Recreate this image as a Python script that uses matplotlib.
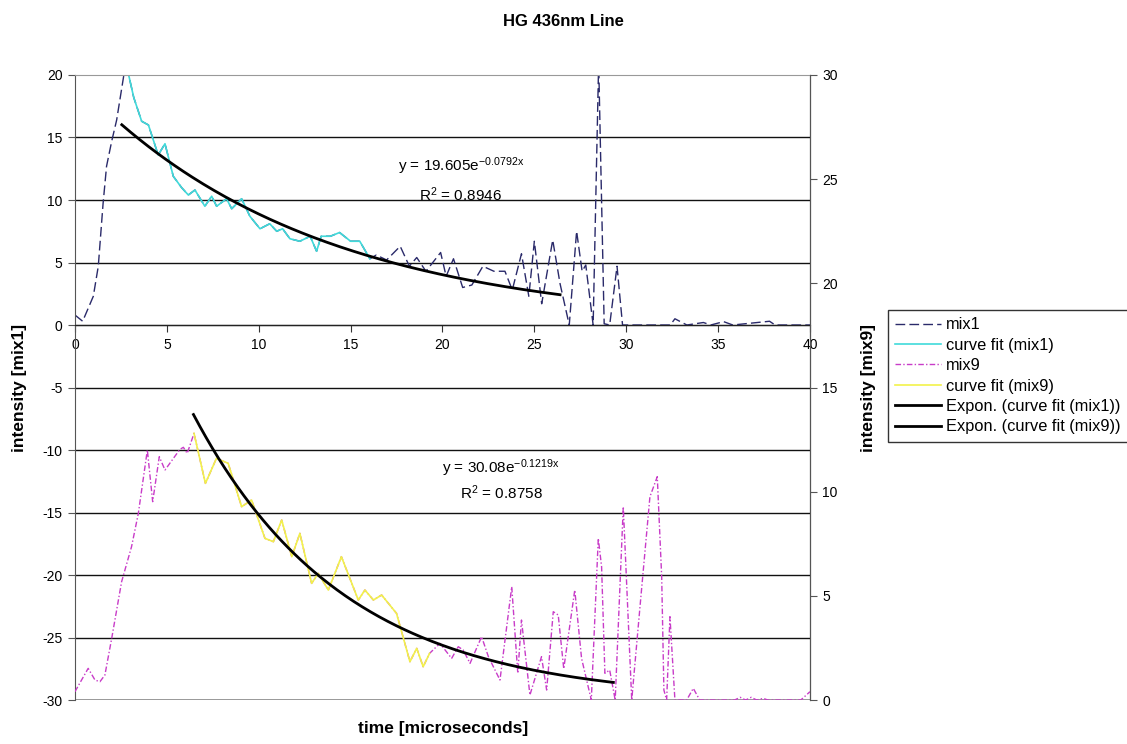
import numpy as np
import matplotlib
matplotlib.use("Agg")
import matplotlib.pyplot as plt

plt.rcParams['font.family'] = ['Liberation Sans', 'DejaVu Sans']
plt.rcParams['mathtext.fontset'] = 'custom'
plt.rcParams['mathtext.rm'] = 'Liberation Sans'
plt.rcParams['mathtext.it'] = 'Liberation Sans'
plt.rcParams['mathtext.default'] = 'regular'
plt.rcParams['axes.unicode_minus'] = False

# mix1 (left axis)
t_mix1 = [0.0, 0.42, 1.0, 1.27, 1.53, 1.72, 2.0, 2.27, 2.77, 3.2, 3.63, 4.0, 4.53, 4.9,
          5.35, 5.8, 6.17, 6.53, 7.07, 7.44, 7.71, 8.25, 8.53, 9.07, 9.52, 10.07, 10.6,
          10.98, 11.3, 11.7, 12.24, 12.8, 13.15, 13.4, 13.9, 14.4, 15.0, 15.5, 16.05,
          16.4, 16.96, 17.7, 18.2, 18.6, 19.1, 19.9, 20.2, 20.6, 21.1, 21.6, 22.2, 22.8,
          23.4, 23.8, 24.3, 24.7, 25.0, 25.4, 26.0, 26.4, 26.9, 27.3, 27.6, 27.8, 28.2,
          28.5, 28.8, 29.1, 29.5, 29.8, 32.4, 32.65, 33.3, 34.2, 34.6, 35.3, 35.8, 37.8,
          38.1, 40.0]
mix1 = [0.8, 0.3, 2.3, 4.7, 9.7, 12.7, 14.7, 16.4, 21.0, 18.2, 16.3, 16.0, 13.6, 14.5,
        11.9, 11.0, 10.4, 10.8, 9.5, 10.3, 9.5, 10.1, 9.3, 10.1, 8.7, 7.7, 8.1,
        7.5, 7.7, 6.9, 6.7, 7.1, 5.9, 7.1, 7.1, 7.4, 6.7, 6.7, 5.3,
        5.6, 5.2, 6.3, 4.7, 5.4, 4.3, 5.8, 3.9, 5.3, 3.0, 3.2, 4.7, 4.3,
        4.3, 2.8, 5.7, 2.3, 6.7, 1.7, 6.8, 3.3, 0.0, 7.5, 4.3, 4.8, 0.0,
        21.0, 0.1, 0.0, 4.7, 0.0, 0.0, 0.5, 0.0, 0.2, 0.0, 0.27, 0.0, 0.3,
        0.0, 0.0]
fit1_start, fit1_end = 8, 38   # index range of "curve fit (mix1)"

# mix9 (right axis)
t_mix9 = [0.0, 0.72, 1.09, 1.36, 1.63, 2.0, 2.54, 3.08, 3.45, 3.94, 4.23, 4.59, 4.9, 5.71,
          5.9, 6.11, 6.48, 7.1, 7.7, 8.34, 9.07, 9.61, 10.34, 10.8, 11.25, 11.8, 12.24,
          12.88, 13.24, 13.79, 14.5, 15.42, 15.78, 16.24, 16.69, 17.5, 18.23, 18.6, 18.95,
          19.3, 19.86, 20.5, 20.86, 21.13, 21.5, 22.13, 22.5, 23.13, 23.77, 24.1, 24.3,
          24.76, 25.39, 25.67, 26.03, 26.3, 26.6, 27.2, 27.57, 28.1, 28.48, 28.66, 28.84,
          29.1, 29.4, 29.84, 30.3, 30.75, 31.29, 31.69, 31.93, 32.05, 32.2, 32.38, 32.65,
          33.29, 33.65, 34.0, 35.9, 36.2, 36.5, 36.8, 37.1, 37.46, 37.7, 39.5, 40.0]
mix9 = [0.4, 1.52, 0.96, 0.88, 1.2, 2.96, 5.68, 7.36, 8.96, 12.0, 9.52, 11.68, 11.04, 12.03,
        12.13, 11.84, 12.8, 10.4, 11.6, 11.36, 9.28, 9.6, 7.76, 7.6, 8.64, 6.88, 8.0,
        5.6, 6.08, 5.28, 6.88, 4.8, 5.28, 4.8, 5.04, 4.16, 1.84, 2.48, 1.6,
        2.24, 2.72, 2.0, 2.56, 2.4, 1.76, 3.04, 2.08, 0.96, 5.44, 1.28, 3.84,
        0.24, 2.08, 0.48, 4.24, 4.08, 1.5, 5.28, 2.0, 0.0, 7.76, 6.4, 1.28,
        1.44, 0.0, 9.28, 0.0, 4.48, 9.76, 10.72, 5.92, 0.48, 0.0, 4.0, 0.0,
        0.0, 0.56, 0.0, 0.0, 0.13, 0.0, 0.13, 0.0, 0.08, 0.0, 0.0, 0.4]
fit9_start, fit9_end = 16, 39

# exponential trendlines (Excel): y = a * exp(b x)
exp1 = (19.605, -0.0792, 2.55, 26.4)
exp9 = (30.08, -0.1219, 6.45, 29.3)

fig = plt.figure(figsize=(11.27, 7.44), dpi=100)
ax = fig.add_axes([0.0665, 0.0591, 0.6522, 0.8401])
ax2 = ax.twinx()

ax.set_xlim(0, 40)
ax.set_ylim(-30, 20)
ax2.set_ylim(0, 30)

for v in range(-25, 20, 5):
    ax.axhline(v, color='#111111', lw=1.0, zorder=0)
ax.axhline(-30, color='#888888', lw=1.2, zorder=0)

ax.plot(t_mix1, mix1, color='#2a2a6a', lw=1.0, dashes=(7, 3), label='mix1')
ax.plot(t_mix1[fit1_start:fit1_end + 1], mix1[fit1_start:fit1_end + 1],
        color='#40DADA', lw=1.2, label='curve fit (mix1)')
ax2.plot(t_mix9, mix9, color='#C83CC8', lw=1.0, dashes=(4, 1.6, 1, 1.6), label='mix9')
ax2.plot(t_mix9[fit9_start:fit9_end + 1], mix9[fit9_start:fit9_end + 1],
         color='#F2F24A', lw=1.2, label='curve fit (mix9)')

a, b, x0, x1 = exp1
xs = np.linspace(x0, x1, 200)
ax.plot(xs, a * np.exp(b * xs), color='black', lw=2.0, label='Expon. (curve fit (mix1))')
a, b, x0, x1 = exp9
xs = np.linspace(x0, x1, 200)
ax2.plot(xs, a * np.exp(b * xs), color='black', lw=2.0, label='Expon. (curve fit (mix9))')

# axes styling, Excel-like
ax.spines['bottom'].set_position(('data', 0))
ax.spines['bottom'].set_color('#222222')
ax.spines['top'].set_color('#999999')
ax.spines['left'].set_color('#555555')
ax2.spines['right'].set_color('#555555')
for s in ['top', 'bottom', 'left']:
    ax2.spines[s].set_visible(False)
ax2.spines['right'].set_visible(True)

ax.set_xticks(np.arange(0, 41, 5))
ax.set_yticks(np.arange(-30, 21, 5))
ax2.set_yticks(np.arange(0, 31, 5))
ax.tick_params(axis='x', direction='out', length=5, color='#333333', labelsize=10, pad=4)
ax.tick_params(axis='y', direction='out', length=5, color='#555555', labelsize=10, pad=4)
ax2.tick_params(axis='y', direction='out', length=5, color='#555555', labelsize=10, pad=4)

ax.text(21.0, 12.7, r'y = 19.605e$^{-0.0792x}$', ha='center', va='center', fontsize=11)
ax.text(21.0, 10.45, r'R$^{2}$ = 0.8946', ha='center', va='center', fontsize=11)
ax.text(23.2, -11.45, r'y = 30.08e$^{-0.1219x}$', ha='center', va='center', fontsize=11)
ax.text(23.2, -13.45, r'R$^{2}$ = 0.8758', ha='center', va='center', fontsize=11)

fig.text(0.5, 1 - 22 / 744, 'HG 436nm Line', ha='center', va='center',
         fontsize=12, fontweight='bold')
fig.text(443 / 1127, 1 - 728 / 744, 'time [microseconds]', ha='center', va='center',
         fontsize=12.5, fontweight='bold')
fig.text(20 / 1127, 1 - 388 / 744, 'intensity [mix1]', ha='center', va='center',
         rotation=90, fontsize=12.5, fontweight='bold')
fig.text(868 / 1127, 1 - 388 / 744, 'intensity [mix9]', ha='center', va='center',
         rotation=90, fontsize=12.5, fontweight='bold')

h1, l1 = ax.get_legend_handles_labels()
h2, l2 = ax2.get_legend_handles_labels()
handles = [h1[0], h1[1], h2[0], h2[1], h1[2], h2[2]]
labels = [l1[0], l1[1], l2[0], l2[1], l1[2], l2[2]]
leg = fig.legend(handles, labels, loc='upper left',
                 bbox_to_anchor=(888 / 1127, 1 - 310 / 744),
                 fontsize=11.8, frameon=True, fancybox=False, framealpha=1,
                 edgecolor='#333333', handlelength=2.8, handletextpad=0.3,
                 labelspacing=0.33, borderpad=0.45, borderaxespad=0)
leg.get_frame().set_linewidth(1.0)

fig.savefig('out.png', dpi=100)
